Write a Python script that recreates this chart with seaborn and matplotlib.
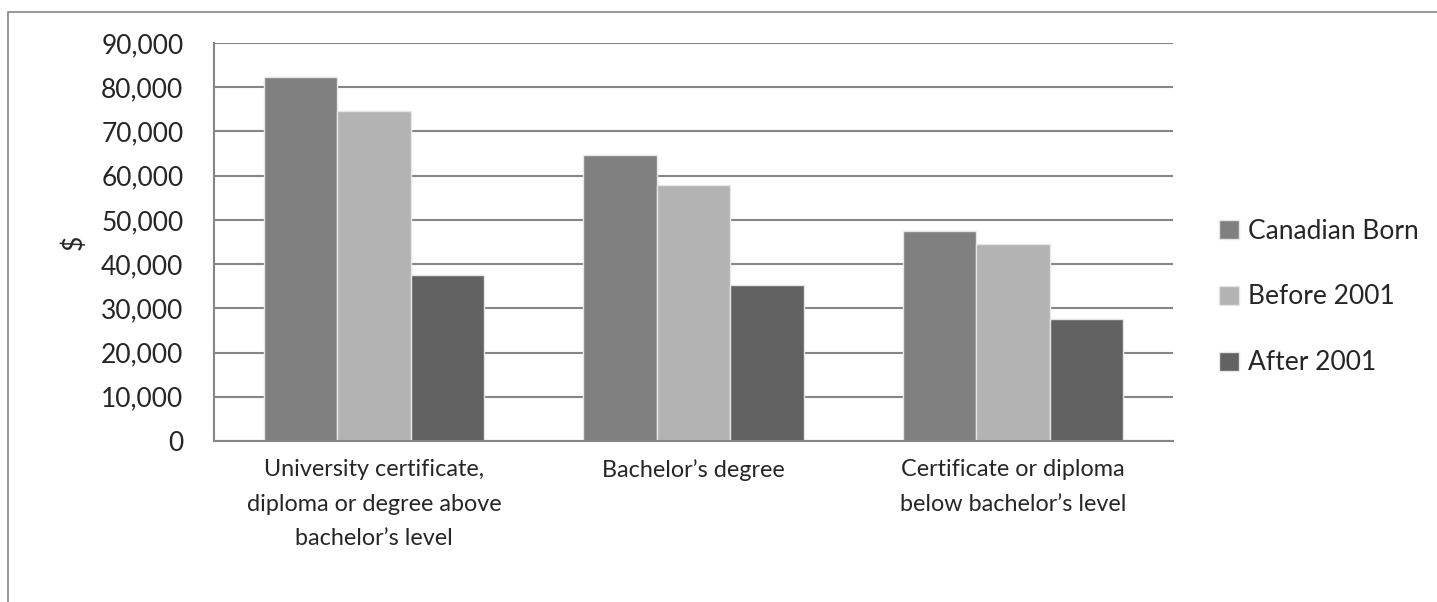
import numpy as np
import pandas as pd
import seaborn as sns
import matplotlib.pyplot as plt
from matplotlib.patches import Rectangle

sns.set_style("white")
plt.rcParams['font.family'] = ['Liberation Sans Narrow', 'Lato', 'DejaVu Sans']

categories = ["University certificate,\ndiploma or degree above\nbachelor\u2019s level",
              "Bachelor\u2019s degree",
              "Certificate or diploma\nbelow bachelor\u2019s level"]
series = ["Canadian Born", "Before 2001", "After 2001"]
canadian_born = [82400, 64700, 47400]
before_2001 = [74600, 57900, 44500]
after_2001 = [37600, 35200, 27700]
colors = ["#808080", "#b3b3b3", "#626262"]

df = pd.DataFrame({
    "category": categories * 3,
    "group": [s for s in series for _ in categories],
    "value": canadian_born + before_2001 + after_2001,
})

fig = plt.figure(figsize=(14.37, 6.02), dpi=100)
ax = fig.add_axes([214 / 1437, 1 - 441 / 602, (1173 - 214) / 1437, (441 - 43) / 602])

sns.barplot(data=df, x="category", y="value", hue="group", palette=colors,
            width=0.69, edgecolor="#e6e6e6", linewidth=1, ax=ax, legend=True)

ax.set_ylim(0, 90000)
ax.set_xlim(-0.5, 2.5)
ax.set_yticks(np.arange(0, 90001, 10000))
ax.set_yticklabels([f"{v:,}" for v in range(0, 90001, 10000)], fontsize=19)
ax.yaxis.grid(True, color="#868686", linewidth=1.5)
ax.set_axisbelow(True)

ax.set_xticks([0, 1, 2])
ax.set_xticklabels(categories, fontsize=16.8, linespacing=1.8)
ax.tick_params(axis="x", length=0, pad=13)
ax.set_xticks([-0.5, 0.5, 1.5, 2.5], minor=True)
ax.tick_params(axis="x", which="minor", length=5, color="#868686", width=1.5, direction="out")
ax.tick_params(axis="y", length=5, color="#868686", width=1.5, direction="out", pad=17)

for side in ["top", "right"]:
    ax.spines[side].set_visible(False)
for side in ["left", "bottom"]:
    ax.spines[side].set_color("#868686")
    ax.spines[side].set_linewidth(1.5)

ax.set_xlabel("")
ax.set_ylabel("$", fontsize=19, labelpad=10)

handles, labels = ax.get_legend_handles_labels()
ax.get_legend().remove()
fig.legend(handles, labels, loc="center left", bbox_to_anchor=(1195 / 1437, 1 - 297 / 602),
           frameon=False, fontsize=19, handlelength=0.75, handleheight=0.75,
           handletextpad=0.35, labelspacing=1.55)

fig.patches.append(Rectangle((8 / 1437, -0.01), 1.1, 1 - 12 / 602 + 0.01,
                             transform=fig.transFigure, fill=False,
                             edgecolor="#868686", linewidth=1.2))

plt.savefig("out.png", dpi=100)
plt.close()
